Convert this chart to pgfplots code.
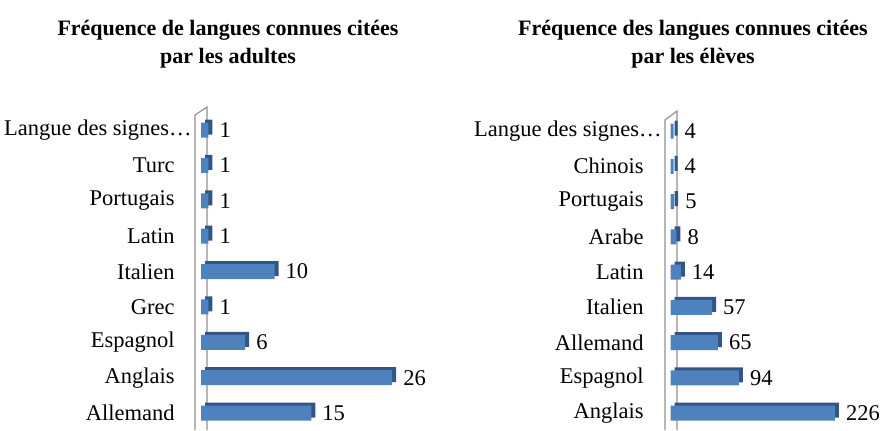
\documentclass[border=0pt]{standalone}
\usepackage{fontspec}
\setmainfont{Liberation Serif}
\usepackage{pgfplots}
\pgfplotsset{compat=1.18}
\definecolor{barblue}{RGB}{79,129,189}
\definecolor{bardark}{RGB}{50,86,132}
\definecolor{wallgray}{RGB}{145,145,145}
\newcommand{\lbl}{\fontsize{22.5bp}{26bp}\selectfont}
\pgfplotsset{
  langs/.style={
    anchor=south west, scale only axis, clip=false,
    xbar, bar width=15bp,
    axis x line=none, axis y line=left,
    y axis line style={draw=none,-},
    ytick style={draw=none},
    ytick={0,...,8},
    yticklabel style={font=\lbl, inner sep=0pt, xshift=-24bp},
    ymin=-0.45, ymax=8.55, xmin=0,
    /pgf/number format/assume math mode=true,
    nodes near coords, nodes near coords align={horizontal},
    every node near coord/.append style={font=\lbl, inner sep=0pt, xshift=11bp, text=black},
  }
}
\begin{document}
\begin{tikzpicture}[x=1bp,y=1bp]
\path[use as bounding box] (0,0) rectangle (883,430);
\draw[wallgray, line width=1.2bp] (195,0)--(195,315)--(207,323)--(207,0);
\draw[wallgray, line width=1.2bp] (665,0)--(665,310)--(677,319)--(677,0);
\node[font=\bfseries\fontsize{22bp}{28bp}\selectfont, align=center] at (228,386) {Fréquence de langues connues citées\\par les adultes};
\node[font=\bfseries\fontsize{22bp}{28bp}\selectfont, align=center] at (693,386) {Fréquence des langues connues citées\\par les élèves};

\begin{axis}[langs,
  at={(201bp,1bp)}, width=220.5bp, height=318.4bp, xmax=30,
  yticklabels={Allemand,Anglais,Espagnol,Grec,Italien,Latin,Portugais,Turc,{Langue des signes…\hspace*{-17bp}}},
]
\addplot[fill=bardark, draw=none, xshift=4bp, yshift=3bp, forget plot, nodes near coords={}] coordinates {(15,0) (26,1) (6,2) (1,3) (10,4) (1,5) (1,6) (1,7) (1,8)};
\addplot[fill=barblue, draw=none] coordinates {(15,0) (26,1) (6,2) (1,3) (10,4) (1,5) (1,6) (1,7) (1,8)};
\end{axis}

\begin{axis}[langs,
  at={(670.6bp,1.1bp)}, width=210.8bp, height=317.25bp, xmax=290,
  yticklabel style={xshift=-0.6bp},
  yticklabels={Anglais,Espagnol,Allemand,Italien,Latin,Arabe,Portugais,Chinois,{Langue des signes…\hspace*{-18bp}}},
]
\addplot[fill=bardark, draw=none, xshift=4bp, yshift=3bp, forget plot, nodes near coords={}] coordinates {(226,0) (94,1) (65,2) (57,3) (14,4) (8,5) (5,6) (4,7) (4,8)};
\addplot[fill=barblue, draw=none] coordinates {(226,0) (94,1) (65,2) (57,3) (14,4) (8,5) (5,6) (4,7) (4,8)};
\end{axis}
\end{tikzpicture}
\end{document}
